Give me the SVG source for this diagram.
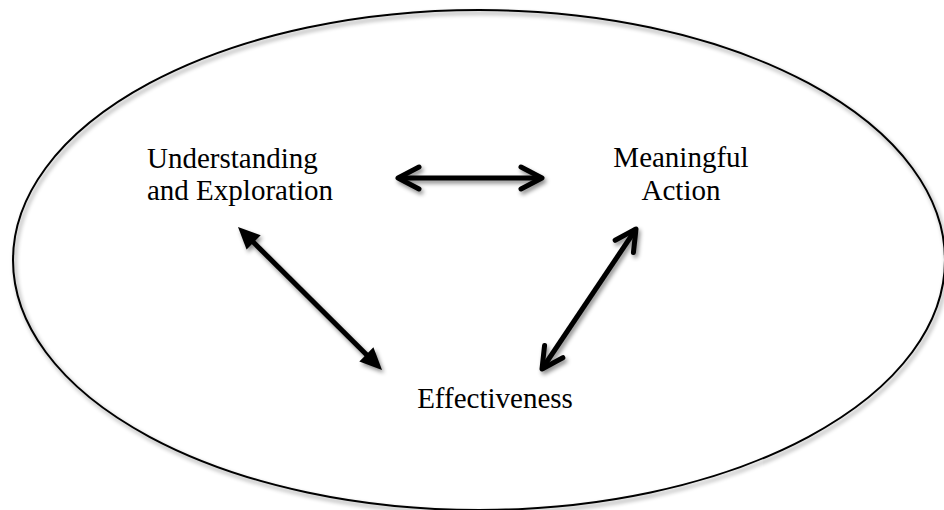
<svg xmlns="http://www.w3.org/2000/svg" width="944" height="510" viewBox="0 0 944 510">
  <style>
    .lbl { font-family: "Liberation Serif", "Times New Roman", serif; font-size: 29px; fill: #000; }
    .shaft { stroke: #000; stroke-width: 5; fill: none; }
  </style>
  <defs>
    <filter id="sh" x="-20%" y="-20%" width="140%" height="140%">
      <feDropShadow dx="2" dy="3" stdDeviation="2" flood-color="#000" flood-opacity="0.45"/>
    </filter>
    <marker id="chev" markerUnits="userSpaceOnUse" orient="auto-start-reverse" refX="0" refY="0" markerWidth="40" markerHeight="40" viewBox="-30 -20 40 40" overflow="visible">
      <path d="M-21,-11 L0,0 L-21,11" fill="none" stroke="#000" stroke-width="5" stroke-linecap="round" stroke-linejoin="round"/>
    </marker>
    <marker id="tri" markerUnits="userSpaceOnUse" orient="auto-start-reverse" refX="0" refY="0" markerWidth="40" markerHeight="40" viewBox="-30 -20 40 40" overflow="visible">
      <path d="M10,0 L-12,-10 L-12,10 Z" fill="#000"/>
    </marker>
  </defs>
  <rect width="944" height="510" fill="#fff"/>
  <g id="boundary">
    <ellipse cx="479" cy="260" rx="466" ry="250" fill="none" stroke="#000" stroke-width="2" filter="url(#sh)"/>
  </g>
  <g id="connectors" filter="url(#sh)">
    <line class="shaft" x1="398" y1="178" x2="542" y2="178" marker-start="url(#chev)" marker-end="url(#chev)"/>
    <line class="shaft" x1="245.1" y1="234" x2="374.9" y2="362.9" marker-start="url(#tri)" marker-end="url(#tri)"/>
    <line class="shaft" x1="636" y1="229" x2="542" y2="369" marker-start="url(#chev)" marker-end="url(#chev)"/>
  </g>
  <g id="understanding">
    <text class="lbl" x="147" y="168">Understanding</text>
    <text class="lbl" x="147" y="200">and Exploration</text>
  </g>
  <g id="meaningful">
    <text class="lbl" x="681" y="167" text-anchor="middle">Meaningful</text>
    <text class="lbl" x="681" y="200" text-anchor="middle">Action</text>
  </g>
  <g id="effectiveness">
    <text class="lbl" x="495" y="408" text-anchor="middle">Effectiveness</text>
  </g>
</svg>
